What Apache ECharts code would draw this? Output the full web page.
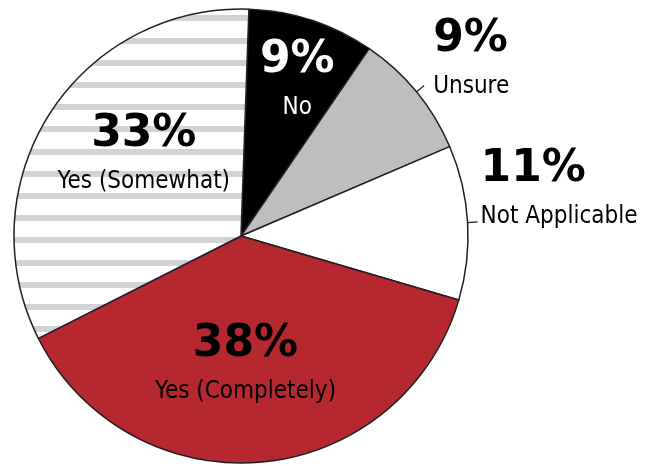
<!DOCTYPE html>
<html><head><meta charset="utf-8">
<script src="https://cdn.jsdelivr.net/npm/echarts@6/dist/echarts.min.js"></script>
<style>html,body{margin:0;padding:0;background:#fff}#c{width:647px;height:466px}</style>
</head><body><div id="c"></div>
<script>
const categories = ['No', 'Unsure', 'Not Applicable', 'Yes (Completely)', 'Yes (Somewhat)'];
const percents = [9, 9, 11, 38, 33];

const CX = 241, CY = 236, R = 227;

// horizontal stripe pattern for "Yes (Somewhat)"
const pat = document.createElement('canvas');
pat.width = 8; pat.height = 222;
const g = pat.getContext('2d');
g.fillStyle = '#ffffff'; g.fillRect(0, 0, 8, 222);
g.fillStyle = '#d1d3d4';
for (let k = 0; k < 10; k++) { g.fillRect(0, Math.round(15.3 + 22.2 * k), 8, 6); }

const fills = ['#000000', '#bdbec0', '#ffffff', '#b5282f', { image: pat, repeat: 'repeat' }];
const textColors = ['#ffffff', '#000000', '#000000', '#000000', '#000000'];
const isInside = [true, false, false, true, true];
const outsidePad = { 1: [0, 0, 50, 0], 2: [0, 0, 62, 0] };
const outsideDist = { 1: 9, 2: 3 };
// inside label placement: [angle clockwise from top (deg), radius fraction]
const insidePos = { 0: [20, 0.725], 3: [178, 0.57], 4: [309.5, 0.555] };

const data = categories.map((name, i) => {
  const item = {
    name: name,
    value: percents[i],
    itemStyle: { color: fills[i] },
    label: { color: textColors[i], position: isInside[i] ? 'inside' : 'outside' },
    labelLine: { show: !isInside[i] }
  };
  if (!isInside[i]) {
    item.label.padding = outsidePad[i];
    item.label.distanceToLabelLine = outsideDist[i];
  }
  return item;
});

const chart = echarts.init(document.getElementById('c'), null, { renderer: 'canvas' });
chart.setOption({
  backgroundColor: '#ffffff',
  animation: false,
  series: [{
    type: 'pie',
    center: [CX, CY],
    radius: [0, R],
    startAngle: 88,
    clockwise: true,
    avoidLabelOverlap: false,
    emphasis: { disabled: true },
    itemStyle: { borderColor: '#231f20', borderWidth: 1.5 },
    label: {
      formatter: '{p|{c}%}\n{n|{b}}',
      rich: {
        p: { fontFamily: 'DejaVu Sans', fontWeight: 'bold', fontSize: 44, lineHeight: 52 },
        n: { fontFamily: "'DejaVu Sans Condensed', sans-serif", fontSize: 24, lineHeight: 42 }
      }
    },
    labelLine: { length: 10, length2: 0, smooth: false, lineStyle: { color: '#231f20', width: 1.2 } },
    labelLayout: function (params) {
      const p = insidePos[params.dataIndex];
      if (!p) return {};
      const a = p[0] * Math.PI / 180;
      return { x: CX + p[1] * R * Math.sin(a), y: CY - p[1] * R * Math.cos(a), align: 'center', verticalAlign: 'middle' };
    },
    data: data
  }]
});
</script>
</body></html>
